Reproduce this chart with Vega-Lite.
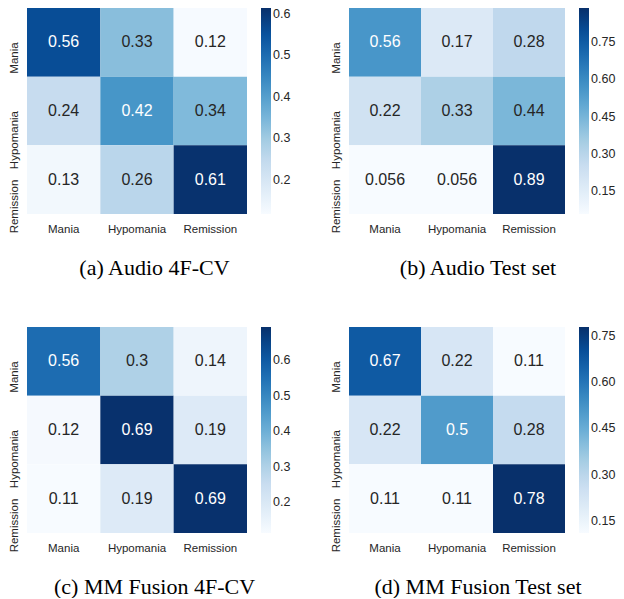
{
  "$schema": "https://vega.github.io/schema/vega-lite/v6.json",
  "background": "white",
  "padding": {"left": 8, "top": 8, "right": 0, "bottom": 0},
  "datasets": {
    "cm": [
      {"panel": "a", "actual": "Mania", "pred": "Mania", "value": 0.56},
      {"panel": "a", "actual": "Mania", "pred": "Hypomania", "value": 0.33},
      {"panel": "a", "actual": "Mania", "pred": "Remission", "value": 0.12},
      {"panel": "a", "actual": "Hypomania", "pred": "Mania", "value": 0.24},
      {"panel": "a", "actual": "Hypomania", "pred": "Hypomania", "value": 0.42},
      {"panel": "a", "actual": "Hypomania", "pred": "Remission", "value": 0.34},
      {"panel": "a", "actual": "Remission", "pred": "Mania", "value": 0.13},
      {"panel": "a", "actual": "Remission", "pred": "Hypomania", "value": 0.26},
      {"panel": "a", "actual": "Remission", "pred": "Remission", "value": 0.61},
      {"panel": "b", "actual": "Mania", "pred": "Mania", "value": 0.56},
      {"panel": "b", "actual": "Mania", "pred": "Hypomania", "value": 0.17},
      {"panel": "b", "actual": "Mania", "pred": "Remission", "value": 0.28},
      {"panel": "b", "actual": "Hypomania", "pred": "Mania", "value": 0.22},
      {"panel": "b", "actual": "Hypomania", "pred": "Hypomania", "value": 0.33},
      {"panel": "b", "actual": "Hypomania", "pred": "Remission", "value": 0.44},
      {"panel": "b", "actual": "Remission", "pred": "Mania", "value": 0.056},
      {"panel": "b", "actual": "Remission", "pred": "Hypomania", "value": 0.056},
      {"panel": "b", "actual": "Remission", "pred": "Remission", "value": 0.89},
      {"panel": "c", "actual": "Mania", "pred": "Mania", "value": 0.56},
      {"panel": "c", "actual": "Mania", "pred": "Hypomania", "value": 0.3},
      {"panel": "c", "actual": "Mania", "pred": "Remission", "value": 0.14},
      {"panel": "c", "actual": "Hypomania", "pred": "Mania", "value": 0.12},
      {"panel": "c", "actual": "Hypomania", "pred": "Hypomania", "value": 0.69},
      {"panel": "c", "actual": "Hypomania", "pred": "Remission", "value": 0.19},
      {"panel": "c", "actual": "Remission", "pred": "Mania", "value": 0.11},
      {"panel": "c", "actual": "Remission", "pred": "Hypomania", "value": 0.19},
      {"panel": "c", "actual": "Remission", "pred": "Remission", "value": 0.69},
      {"panel": "d", "actual": "Mania", "pred": "Mania", "value": 0.67},
      {"panel": "d", "actual": "Mania", "pred": "Hypomania", "value": 0.22},
      {"panel": "d", "actual": "Mania", "pred": "Remission", "value": 0.11},
      {"panel": "d", "actual": "Hypomania", "pred": "Mania", "value": 0.22},
      {"panel": "d", "actual": "Hypomania", "pred": "Hypomania", "value": 0.5},
      {"panel": "d", "actual": "Hypomania", "pred": "Remission", "value": 0.28},
      {"panel": "d", "actual": "Remission", "pred": "Mania", "value": 0.11},
      {"panel": "d", "actual": "Remission", "pred": "Hypomania", "value": 0.11},
      {"panel": "d", "actual": "Remission", "pred": "Remission", "value": 0.78}
    ]
  },
  "columns": 2,
  "bounds": "flush",
  "spacing": {"row": 113, "column": 102},
  "concat": [
    {
      "width": 220, "height": 206,
      "title": {"text": "(a) Audio 4F-CV"},
      "data": {"name": "cm"},
      "transform": [{"filter": "datum.panel === 'a'"}],
      "encoding": {
        "x": {"field": "pred", "type": "nominal", "sort": ["Mania", "Hypomania", "Remission"], "title": null, "scale": {"paddingInner": 0, "paddingOuter": 0}, "axis": {"labelAngle": 0}},
        "y": {"field": "actual", "type": "nominal", "sort": ["Mania", "Hypomania", "Remission"], "title": null, "scale": {"paddingInner": 0, "paddingOuter": 0}, "axis": {"labelAngle": 270, "labelAlign": "right", "labelBaseline": "alphabetic"}}
      },
      "layer": [
        {
          "mark": {"type": "rect", "strokeWidth": 0},
          "encoding": {
            "color": {
              "field": "value", "type": "quantitative",
              "scale": {"domain": [0.118, 0.18, 0.242, 0.304, 0.366, 0.428, 0.49, 0.552, 0.614], "range": ["#f7fbff", "#deebf7", "#c6dbef", "#9ecae1", "#6baed6", "#4292c6", "#2171b5", "#08519c", "#08306b"], "interpolate": "rgb", "clamp": true},
              "legend": {"title": null, "values": [0.2, 0.3, 0.4, 0.5, 0.6], "format": ".1f"}
            }
          }
        },
        {
          "mark": {"type": "text", "fontSize": 16, "font": "Liberation Sans"},
          "encoding": {
            "text": {"field": "value", "type": "quantitative", "format": ".2~g"},
            "color": {"condition": {"test": "datum.value > 0.4", "value": "white"}, "value": "#262626"}
          }
        }
      ]
    },
    {
      "width": 216, "height": 206,
      "title": {"text": "(b) Audio Test set"},
      "data": {"name": "cm"},
      "transform": [{"filter": "datum.panel === 'b'"}],
      "encoding": {
        "x": {"field": "pred", "type": "nominal", "sort": ["Mania", "Hypomania", "Remission"], "title": null, "scale": {"paddingInner": 0, "paddingOuter": 0}, "axis": {"labelAngle": 0}},
        "y": {"field": "actual", "type": "nominal", "sort": ["Mania", "Hypomania", "Remission"], "title": null, "scale": {"paddingInner": 0, "paddingOuter": 0}, "axis": {"labelAngle": 270, "labelAlign": "right", "labelBaseline": "alphabetic"}}
      },
      "layer": [
        {
          "mark": {"type": "rect", "strokeWidth": 0},
          "encoding": {
            "color": {
              "field": "value", "type": "quantitative",
              "scale": {"domain": [0.0556, 0.1598, 0.2639, 0.3681, 0.4723, 0.5764, 0.6806, 0.7847, 0.8889], "range": ["#f7fbff", "#deebf7", "#c6dbef", "#9ecae1", "#6baed6", "#4292c6", "#2171b5", "#08519c", "#08306b"], "interpolate": "rgb", "clamp": true},
              "legend": {"title": null, "values": [0.15, 0.3, 0.45, 0.6, 0.75], "format": ".2f"}
            }
          }
        },
        {
          "mark": {"type": "text", "fontSize": 16, "font": "Liberation Sans"},
          "encoding": {
            "text": {"field": "value", "type": "quantitative", "format": ".2~g"},
            "color": {"condition": {"test": "datum.value > 0.5", "value": "white"}, "value": "#262626"}
          }
        }
      ]
    },
    {
      "width": 220, "height": 206,
      "title": {"text": "(c) MM Fusion 4F-CV"},
      "data": {"name": "cm"},
      "transform": [{"filter": "datum.panel === 'c'"}],
      "encoding": {
        "x": {"field": "pred", "type": "nominal", "sort": ["Mania", "Hypomania", "Remission"], "title": null, "scale": {"paddingInner": 0, "paddingOuter": 0}, "axis": {"labelAngle": 0}},
        "y": {"field": "actual", "type": "nominal", "sort": ["Mania", "Hypomania", "Remission"], "title": null, "scale": {"paddingInner": 0, "paddingOuter": 0}, "axis": {"labelAngle": 270, "labelAlign": "right", "labelBaseline": "alphabetic"}}
      },
      "layer": [
        {
          "mark": {"type": "rect", "strokeWidth": 0},
          "encoding": {
            "color": {
              "field": "value", "type": "quantitative",
              "scale": {"domain": [0.113, 0.1855, 0.258, 0.3305, 0.403, 0.4755, 0.548, 0.6205, 0.693], "range": ["#f7fbff", "#deebf7", "#c6dbef", "#9ecae1", "#6baed6", "#4292c6", "#2171b5", "#08519c", "#08306b"], "interpolate": "rgb", "clamp": true},
              "legend": {"title": null, "values": [0.2, 0.3, 0.4, 0.5, 0.6], "format": ".1f"}
            }
          }
        },
        {
          "mark": {"type": "text", "fontSize": 16, "font": "Liberation Sans"},
          "encoding": {
            "text": {"field": "value", "type": "quantitative", "format": ".2~g"},
            "color": {"condition": {"test": "datum.value > 0.4", "value": "white"}, "value": "#262626"}
          }
        }
      ]
    },
    {
      "width": 216, "height": 206,
      "title": {"text": "(d) MM Fusion Test set"},
      "data": {"name": "cm"},
      "transform": [{"filter": "datum.panel === 'd'"}],
      "encoding": {
        "x": {"field": "pred", "type": "nominal", "sort": ["Mania", "Hypomania", "Remission"], "title": null, "scale": {"paddingInner": 0, "paddingOuter": 0}, "axis": {"labelAngle": 0}},
        "y": {"field": "actual", "type": "nominal", "sort": ["Mania", "Hypomania", "Remission"], "title": null, "scale": {"paddingInner": 0, "paddingOuter": 0}, "axis": {"labelAngle": 270, "labelAlign": "right", "labelBaseline": "alphabetic"}}
      },
      "layer": [
        {
          "mark": {"type": "rect", "strokeWidth": 0},
          "encoding": {
            "color": {
              "field": "value", "type": "quantitative",
              "scale": {"domain": [0.1111, 0.1944, 0.2778, 0.3611, 0.4444, 0.5278, 0.6111, 0.6944, 0.7778], "range": ["#f7fbff", "#deebf7", "#c6dbef", "#9ecae1", "#6baed6", "#4292c6", "#2171b5", "#08519c", "#08306b"], "interpolate": "rgb", "clamp": true},
              "legend": {"title": null, "values": [0.15, 0.3, 0.45, 0.6, 0.75], "format": ".2f"}
            }
          }
        },
        {
          "mark": {"type": "text", "fontSize": 16, "font": "Liberation Sans"},
          "encoding": {
            "text": {"field": "value", "type": "quantitative", "format": ".2~g"},
            "color": {"condition": {"test": "datum.value > 0.4", "value": "white"}, "value": "#262626"}
          }
        }
      ]
    }
  ],
  "resolve": {
    "scale": {"color": "independent", "x": "independent", "y": "independent"},
    "legend": {"color": "independent"}
  },
  "config": {
    "view": {"stroke": null},
    "axis": {"domain": false, "ticks": false, "tickSize": 0, "grid": false, "labelFont": "Liberation Sans", "labelFontSize": 11.5, "labelColor": "#262626"},
    "axisX": {"labelPadding": 9},
    "axisY": {"labelPadding": 10},
    "legend": {"orient": "right", "gradientLength": 206, "gradientThickness": 10, "offset": 14, "padding": 0, "labelOffset": 7, "labelFont": "Liberation Sans", "labelFontSize": 12.5, "labelColor": "#262626", "gradientStrokeWidth": 0},
    "title": {"orient": "bottom", "anchor": "middle", "frame": "bounds", "font": "Liberation Serif", "fontSize": 22, "fontWeight": "normal", "color": "black", "offset": 23, "dx": 5}
  }
}
